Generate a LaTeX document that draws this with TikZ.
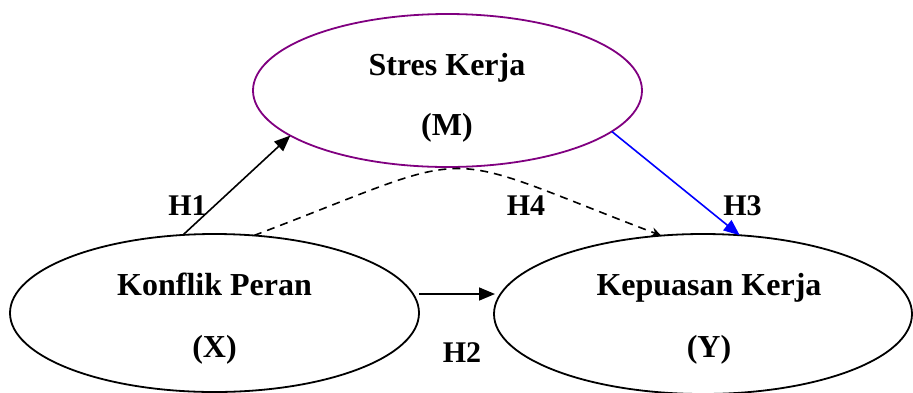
\documentclass[tikz,border=0pt]{standalone}
\usepackage{fontspec}
\setmainfont{Liberation Serif}
\usetikzlibrary{shapes.geometric,arrows.meta,calc}
\definecolor{mpurple}{RGB}{128,0,128}
\definecolor{mblue}{RGB}{0,0,255}
\begin{document}
\begin{tikzpicture}[x=1pt,y=-1pt,
  varnode/.style={ellipse,draw,line width=1.8pt,inner sep=0pt,outer sep=0pt},
  vartext/.style={anchor=base,inner sep=0pt,font=\bfseries\fontsize{32}{38}\selectfont},
  hlabel/.style={anchor=base,inner sep=0pt,font=\bfseries\fontsize{30}{36}\selectfont},
  arr/.style={line width=1.6pt,-{Triangle[length=16pt,width=13pt]}},
  dasharr/.style={line width=1.6pt,dash pattern=on 8pt off 6pt,-{Stealth[length=10pt,width=9pt]}}
]
\useasboundingbox (0,0) rectangle (913,392);
% ellipses
\node[varnode,draw=mpurple,minimum width=389pt,minimum height=153pt] (M) at (447.5,90.5) {};
\node[varnode,minimum width=409pt,minimum height=158pt] (X) at (214.5,313) {};
\node[varnode,minimum width=418pt,minimum height=160pt] (Y) at (703,314) {};
% texts
\node[vartext] (Mt1) at (447,75) {Stres Kerja};
\node[vartext] (Mt2) at (447,135) {(M)};
\node[vartext] (Xt1) at (214.5,295) {Konflik Peran};
\node[vartext] (Xt2) at (214.5,357) {(X)};
\node[vartext] (Yt1) at (709,295) {Kepuasan Kerja};
\node[vartext] (Yt2) at (709,357) {(Y)};
% connectors
\draw[arr] (X.112) -- (M.196.75);
\draw[arr,draw=mblue,fill=mblue] (M.-14.57) -- (Y.65.8);
\draw[arr] ($(X.east)+(0,-19)$) -- ($(Y.west)+(1,-20)$);
\draw[dasharr] (X.63.7) .. controls +(234,-89) and +(-234,-89) .. (Y.118.6);
% labels
\node[hlabel] (H1) at (187.5,215) {H1};
\node[hlabel] (H4) at (526,215) {H4};
\node[hlabel] (H3) at (742.5,215) {H3};
\node[hlabel] (H2) at (462,362) {H2};
\end{tikzpicture}
\end{document}
